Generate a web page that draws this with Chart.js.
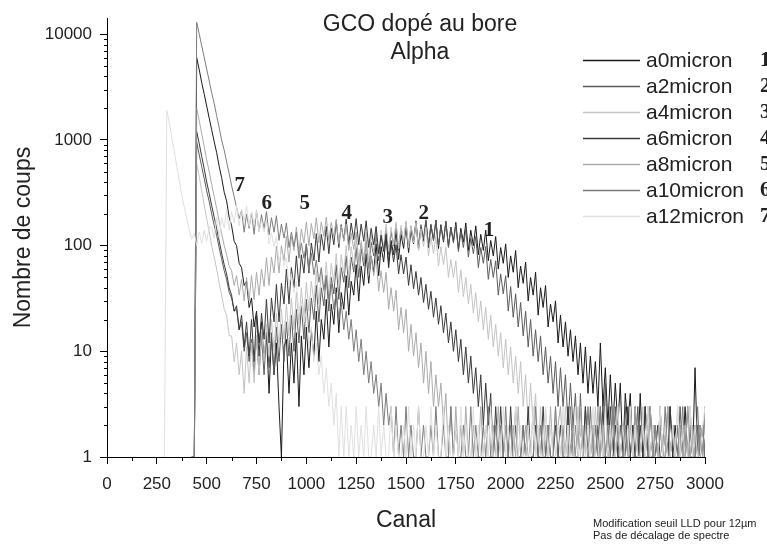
<!DOCTYPE html>
<html><head><meta charset="utf-8">
<script src="https://cdn.jsdelivr.net/npm/chart.js@4.4.1/dist/chart.umd.min.js"></script>
<style>html,body{margin:0;padding:0;background:#fff;}#wrap{width:767px;height:545px;position:relative;}</style>
</head><body><div id="wrap"><canvas id="c" width="767" height="545"></canvas></div>
<script>
// Channel grid (x values), sampled every ~12.5 channels
const channels = [
275,288,300,313,325,338,350,363,375,388,400,413,425,438,450,463,475,488,500,513,
525,538,550,563,575,588,600,613,625,638,650,663,675,688,700,713,725,738,750,763,
775,788,800,813,825,838,850,863,875,888,900,913,925,938,950,963,975,988,1000,1013,
1025,1038,1050,1063,1075,1088,1100,1113,1125,1138,1150,1163,1175,1188,1200,1213,1225,1238,1250,1263,
1275,1288,1300,1313,1325,1338,1350,1363,1375,1388,1400,1413,1425,1438,1450,1463,1475,1488,1500,1513,
1525,1538,1550,1563,1575,1588,1600,1613,1625,1638,1650,1663,1675,1688,1700,1713,1725,1738,1750,1763,
1775,1788,1800,1813,1825,1838,1850,1863,1875,1888,1900,1913,1925,1938,1950,1963,1975,1988,2000,2013,
2025,2038,2050,2063,2075,2088,2100,2113,2125,2138,2150,2163,2175,2188,2200,2213,2225,2238,2250,2263,
2275,2288,2300,2313,2325,2338,2350,2363,2375,2388,2400,2413,2425,2438,2450,2463,2475,2488,2500,2513,
2525,2538,2550,2563,2575,2588,2600,2613,2625,2638,2650,2663,2675,2688,2700,2713,2725,2738,2750,2763,
2775,2788,2800,2813,2825,2838,2850,2863,2875,2888,2900,2913,2925,2938,2950,2963,2975,2988,3000];

const a0micron = [
null,null,null,null,null,null,null,null,null,null,null,null,1,1,6000,4600,3500,2700,2100,1600,
1250,960,760,560,440,320,265,185,155,110,100,68,62,42,46,26,32,17,24,12,
19,8,15,4,14,6,12,3,1,11,13,4,12,5,15,3,14,6,17,7,
16,9,24,8,20,13,31,11,28,18,40,15,36,25,52,22,46,34,66,30,
64,42,84,44,80,56,104,52,98,70,124,62,112,82,140,74,128,94,152,86,
140,104,168,92,150,110,172,96,156,112,174,94,158,108,170,98,150,110,166,92,
146,108,164,90,140,100,154,82,128,90,140,72,112,80,122,60,96,68,104,50,
80,56,90,40,64,44,70,30,50,34,56,22,40,26,42,17,28,19,30,12,
22,11,19,9,16,8,14,6,12,5,11,4,9,4,8,3,12,3,7,2,
6,2,5,2,5,1,4,2,4,1,3,1,4,1,3,1,3,1,2,1,
3,1,2,1,3,1,2,1,2,1,3,1,2,1,7,1,2,1,3];

const a2micron = [
null,null,null,null,null,null,null,null,null,null,null,null,1,1,950,720,560,430,330,260,
200,155,125,95,75,58,48,36,32,24,25,16,19,10,15,8,13,6,14,6,
14,6,15,7,15,6,17,8,18,8,19,9,22,10,25,12,27,13,31,15,
32,20,42,19,40,27,52,24,50,35,66,31,62,45,80,40,78,56,96,50,
94,64,114,60,108,80,130,72,122,92,146,82,136,100,158,90,146,106,166,96,
152,112,172,98,158,116,176,100,160,114,174,100,154,112,168,96,148,106,158,88,
136,96,144,78,118,84,122,62,96,68,98,48,74,50,72,34,54,35,52,24,
41,21,35,17,29,14,24,11,20,9,16,8,14,6,11,5,9,4,8,3,
7,3,6,2,5,2,4,1,4,1,3,1,3,1,2,1,3,1,5,1,
2,1,3,1,2,1,3,1,1,2,1,3,1,2,1,1,3,1,2,1,
2,1,1,3,1,2,1,1,3,1,2,1,3,1,1,2,1,2,1];

const a4micron = [
null,null,null,null,null,null,null,null,null,null,null,null,1,1,600,450,330,240,180,135,
100,78,60,44,34,25,22,14,14,8,12,6,10,4,11,5,12,5,14,6,
16,8,18,9,20,10,23,11,25,13,28,14,32,16,36,18,40,21,45,24,
46,29,58,28,56,36,70,34,68,45,84,42,82,54,100,51,98,64,116,61,
112,74,134,70,128,86,150,80,140,94,160,88,150,102,168,94,156,106,172,96,
156,106,166,90,144,98,150,80,122,84,124,64,98,66,96,50,74,50,72,36,
59,33,50,28,43,23,36,19,30,16,26,13,22,11,18,9,15,7,13,6,
11,5,9,4,8,3,6,2,5,2,4,1,3,1,3,1,2,1,3,1,
2,1,3,1,1,2,1,3,1,2,1,1,2,1,3,1,2,1,1,2,
1,3,1,2,1,1,2,1,3,1,2,1,1,3,1,2,1,1,2,1,
3,1,2,1,1,2,1,3,1,1,2,1,3,1,2,1,1,2,1];

const a6micron = [
null,null,null,null,null,null,null,null,null,null,null,null,1,1,1200,920,700,530,400,310,
240,185,145,110,85,66,54,40,34,24,27,16,22,11,19,9,20,8,22,9,
23,13,31,12,32,19,43,19,44,28,60,28,62,40,80,41,82,55,104,55,
106,72,130,70,128,90,152,84,146,102,170,96,158,112,178,102,164,114,180,102,
160,110,172,96,146,102,152,84,126,88,128,70,104,70,102,54,82,54,78,42,
66,39,57,34,50,29,43,25,37,21,32,18,27,15,23,12,19,10,16,8,
13,6,11,5,9,4,7,3,6,2,5,2,4,1,3,1,3,1,2,1,
3,1,2,1,1,2,1,3,1,1,2,1,1,3,1,2,1,1,2,1,
2,1,1,3,1,2,1,1,2,1,3,1,1,2,1,2,1,3,1,1,
3,1,2,1,1,2,1,3,1,2,1,1,2,1,3,1,1,2,1,2,
1,1,2,1,3,1,1,2,1,2,1,3,1,1,2,1,1,2,1];

const a8micron = [
null,null,null,null,null,null,null,null,null,null,null,null,1,1,2000,1520,1150,860,650,500,
380,290,225,170,130,100,82,64,58,42,52,34,48,30,50,30,52,31,56,34,
60,41,77,42,78,55,99,55,100,72,124,70,122,90,150,86,144,106,168,100,
162,116,184,106,168,122,186,110,166,120,178,104,154,110,160,90,132,92,134,70,
106,70,104,52,80,52,78,37,58,36,56,25,40,24,38,16,26,15,25,10,
18,9,15,7,12,5,10,4,8,3,6,3,5,2,4,1,3,1,3,1,
2,1,3,1,1,2,1,1,3,1,2,1,1,2,1,3,1,1,2,1,
1,2,1,3,1,1,2,1,1,3,1,2,1,1,2,1,3,1,1,2,
3,1,1,2,1,2,1,1,3,1,2,1,1,2,1,3,1,2,1,1,
1,3,1,2,1,1,2,1,2,1,3,1,1,2,1,1,3,1,2,1,
2,1,1,3,1,2,1,1,2,1,1,3,1,2,1,1,2,1,3];

const a10micron = [
null,null,null,null,null,null,null,null,null,null,null,null,1,1,13000,10000,7800,6000,4700,3600,
2800,2200,1700,1300,1000,800,620,480,370,290,230,180,216,134,198,146,206,128,214,136,
196,144,210,126,184,134,192,112,160,118,164,96,134,98,134,76,106,76,104,58,
85,53,73,45,62,38,52,31,43,25,36,20,29,16,24,13,20,10,16,8,
13,6,10,5,8,4,6,3,5,2,4,2,3,1,3,1,2,1,3,1,
2,1,1,3,1,2,1,1,2,1,3,1,1,2,1,1,3,1,2,1,
1,2,1,1,3,1,2,1,1,2,1,3,1,1,2,1,2,1,3,1,
2,1,3,1,1,2,1,2,1,1,3,1,2,1,1,2,1,1,3,1,
1,2,1,1,3,1,2,1,2,1,1,3,1,1,2,1,3,1,1,2,
1,3,1,2,1,1,2,1,3,1,1,2,1,2,1,3,1,1,2,1,
2,1,3,1,1,2,1,2,1,3,1,1,2,1,1,3,1,2,1];

const a12micron = [
1,1,1900,1450,1050,780,560,410,300,230,180,140,115,130,100,135,105,140,110,150,
150,118,186,118,186,146,220,140,210,164,240,154,222,172,238,152,208,160,212,134,
176,134,172,104,132,98,122,70,88,64,78,42,54,36,46,23,30,19,24,11,
17,8,12,6,9,4,7,3,5,2,4,1,3,1,3,1,2,1,3,1,
2,1,3,1,1,2,1,3,1,2,1,1,3,1,2,1,1,2,1,3,
1,2,1,3,1,1,2,1,3,1,2,1,1,3,1,2,1,1,2,1,
3,1,2,1,1,3,1,2,1,1,2,1,3,1,1,2,1,3,1,2,
1,1,3,1,2,1,1,2,1,3,1,2,1,1,3,1,2,1,1,2,
1,3,1,2,1,1,3,1,2,1,1,2,1,3,1,1,2,1,3,1,
2,1,1,3,1,2,1,1,3,1,2,1,1,2,1,3,1,2,1,1,
3,1,2,1,1,2,1,3,1,2,1,1,3,1,2,1,1,2,3];

const seriesNames = ['a0micron','a2micron','a4micron','a6micron','a8micron','a10micron','a12micron'];
const seriesValues = [a0micron,a2micron,a4micron,a6micron,a8micron,a10micron,a12micron];
const seriesColors = ['#1a1a1a','#5c5c5c','#c4c4c4','#3a3a3a','#ababab','#7c7c7c','#e0e0e0'];
const seriesNumbers = ['1','2','3','4','5','6','7'];

// Peak annotation positions (channel, counts)
const peakLabelCh = [1917,1589,1409,1203,992,801,666];
const peakLabelCount = [140,203,186,203,248,248,374];

const xTickStep = 250;
const yTickValues = [1,10,100,1000,10000];

const titleLines = ['GCO dopé au bore','Alpha'];
const xTitle = 'Canal';
const yTitle = 'Nombre de coups';
const noteLines = ['Modification seuil LLD pour 12µm','Pas de décalage de spectre'];

const SANS = '"Liberation Sans", Arial, sans-serif';
const SERIF = '"Liberation Serif", "Times New Roman", serif';

const datasets = seriesValues.map((vals, k) => ({
  label: seriesNames[k],
  data: channels.map((c, i) => ({x: c, y: vals[i]})),
  borderColor: seriesColors[k],
  backgroundColor: seriesColors[k],
  borderWidth: 1,
  pointRadius: 0,
  tension: 0,
  fill: false,
  order: seriesValues.length - 1 - k
}));

const decor = {
  id: 'decor',
  afterDraw(chart) {
    const ctx = chart.ctx;
    const xs = chart.scales.x, ys = chart.scales.y;
    const ca = chart.chartArea;
    ctx.save();
    // minor ticks
    ctx.strokeStyle = '#000';
    ctx.lineWidth = 1;
    ctx.beginPath();
    yTickValues.forEach(d => {
      for (let m = 2; m <= 9; m++) {
        const v = m * d;
        if (v > ys.max) continue;
        const y = Math.round(ys.getPixelForValue(v)) + 0.5;
        ctx.moveTo(ca.left - 3, y); ctx.lineTo(ca.left, y);
      }
    });
    for (let c = xTickStep / 2; c < xs.max; c += xTickStep) {
      const x = Math.round(xs.getPixelForValue(c)) + 0.5;
      ctx.moveTo(x, ca.bottom); ctx.lineTo(x, ca.bottom + 4);
    }
    ctx.stroke();

    ctx.fillStyle = '#222';
    ctx.textAlign = 'center';
    ctx.textBaseline = 'middle';
    // title
    ctx.font = '23px ' + SANS;
    ctx.fillText(titleLines[0], 420, 25);
    ctx.fillText(titleLines[1], 420, 53);
    // axis titles
    ctx.fillText(xTitle, (ca.left + ca.right) / 2, 521);
    ctx.save();
    ctx.translate(24, (ca.top + ca.bottom) / 2);
    ctx.rotate(-Math.PI / 2);
    ctx.fillText(yTitle, 0, 0);
    ctx.restore();
    // note
    ctx.font = '11px ' + SANS;
    ctx.textAlign = 'left';
    ctx.fillText(noteLines[0], 593, 524);
    ctx.fillText(noteLines[1], 593, 536);
    // legend
    for (let k = 0; k < seriesNames.length; k++) {
      const y = 60 + k * 26;
      ctx.strokeStyle = seriesColors[k];
      ctx.lineWidth = 1.5;
      ctx.beginPath(); ctx.moveTo(583, y + 0.5); ctx.lineTo(640, y + 0.5); ctx.stroke();
      ctx.fillStyle = '#222';
      ctx.font = '21px ' + SANS;
      ctx.textAlign = 'left';
      ctx.fillText(seriesNames[k], 646, y + 1);
      ctx.font = 'bold 21px ' + SERIF;
      ctx.fillText(seriesNumbers[k], 760, y + 1);
    }
    // peak labels
    ctx.font = 'bold 21px ' + SERIF;
    ctx.textAlign = 'center';
    for (let k = 0; k < peakLabelCh.length; k++) {
      ctx.fillText(seriesNumbers[k], xs.getPixelForValue(peakLabelCh[k]), ys.getPixelForValue(peakLabelCount[k]));
    }
    ctx.restore();
  }
};

new Chart(document.getElementById('c'), {
  type: 'line',
  data: { datasets },
  options: {
    responsive: false,
    animation: false,
    layout: { padding: { left: 0, right: 62, top: 18, bottom: 0 } },
    plugins: { legend: { display: false }, title: { display: false }, tooltip: { enabled: false } },
    scales: {
      x: {
        type: 'linear', min: 0, max: 3000,
        ticks: { stepSize: xTickStep, autoSkip: false, maxRotation: 0, padding: 10, color: '#222',
                 font: { size: 17, family: SANS }, callback: v => String(v) },
        grid: { display: true, drawOnChartArea: false, drawTicks: true, tickLength: 7, color: '#000' },
        border: { display: true, color: '#000', width: 1 },
        afterFit: s => { s.height = 88; }
      },
      y: {
        type: 'logarithmic', min: 1, max: 14200,
        afterBuildTicks: s => { s.ticks = yTickValues.map(v => ({ value: v })); },
        ticks: { padding: 8, color: '#222', font: { size: 17, family: SANS }, callback: v => String(v) },
        grid: { display: true, drawOnChartArea: false, drawTicks: true, tickLength: 7, color: '#000' },
        border: { display: true, color: '#000', width: 1 },
        afterFit: s => { s.width = 107; }
      }
    }
  },
  plugins: [decor]
});
</script></body></html>
